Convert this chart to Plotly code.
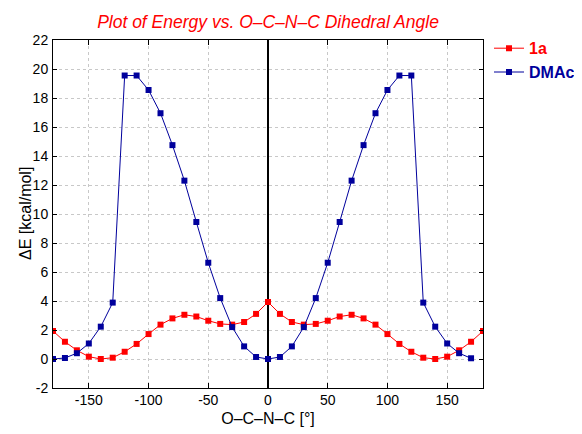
import plotly.graph_objects as go

angles_1a = [-180, -170, -160, -150, -140, -130, -120, -110, -100, -90, -80, -70, -60, -50, -40, -30, -20, -10,
             0, 10, 20, 30, 40, 50, 60, 70, 80, 90, 100, 110, 120, 130, 140, 150, 160, 170, 180]
energy_1a = [1.93, 1.19, 0.6, 0.16, 0.0, 0.09, 0.5, 1.04, 1.72, 2.37, 2.8, 3.05, 2.93, 2.64, 2.42, 2.37, 2.55, 3.11,
             3.93, 3.11, 2.55, 2.37, 2.42, 2.64, 2.93, 3.05, 2.8, 2.37, 1.72, 1.04, 0.5, 0.09, 0.0, 0.16, 0.6, 1.19, 1.93]

angles_dmac = [-180, -170, -160, -150, -140, -130, -120, -110, -100, -90, -80, -70, -60, -50, -40, -30, -20, -10,
               0, 10, 20, 30, 40, 50, 60, 70, 80, 90, 100, 110, 120, 130, 140, 150, 160, 170]
energy_dmac = [0.0, 0.07, 0.4, 1.07, 2.23, 3.89, 19.55, 19.55, 18.55, 16.95, 14.75, 12.3, 9.45, 6.64, 4.2, 2.2, 0.87, 0.14,
               0.0, 0.14, 0.87, 2.2, 4.2, 6.64, 9.45, 12.3, 14.75, 16.95, 18.55, 19.55, 19.55, 3.89, 2.23, 1.07, 0.4, 0.05]

x_ticks = [-150, -100, -50, 0, 50, 100, 150]
x_tick_labels = ["-150", "-100", "-50", "0", "50", "100", "150"]
y_ticks = list(range(-2, 23, 2))
y_tick_labels = [str(v) for v in y_ticks]

RED = "#ff0000"
BLUE = "#00009c"
FONT = "Liberation Sans, Arial, sans-serif"

# page body has an 8px margin, so the figure is sized/positioned to compensate
W, H = 574, 426
L, R, T, B = 45, 99, 32, 46
PW = W - L - R

fig = go.Figure()
fig.add_trace(go.Scatter(
    x=angles_1a, y=energy_1a, mode="lines+markers",
    name=f"<b><span style='color:{RED}'>1a</span></b>",
    line=dict(color=RED, width=1),
    marker=dict(symbol="square", size=6, color=RED),
))
fig.add_trace(go.Scatter(
    x=angles_dmac, y=energy_dmac, mode="lines+markers",
    name=f"<b><span style='color:{BLUE}'>DMAc</span></b>",
    line=dict(color=BLUE, width=1),
    marker=dict(symbol="square", size=6, color=BLUE),
))

fig.update_layout(
    width=W, height=H,
    margin=dict(l=L, r=R, t=T, b=B, autoexpand=False),
    paper_bgcolor="white", plot_bgcolor="white",
    font=dict(family=FONT, size=14, color="black"),
    title=dict(text="<i>Plot of Energy vs. O\u2013C\u2013N\u2013C Dihedral Angle</i>",
               font=dict(family=FONT, size=17.5, color=RED),
               x=260 / W, xanchor="center", y=1 - 14 / H, yanchor="middle"),
    legend=dict(x=1.0 + 6 / PW, y=1.025, xanchor="left", yanchor="top",
                font=dict(family=FONT, size=16), bgcolor="rgba(0,0,0,0)",
                tracegroupgap=0, itemwidth=30),
    showlegend=True,
    annotations=[dict(text="\u0394E [kcal/mol]", textangle=-90, showarrow=False,
                      xref="paper", yref="paper", x=(17 - L) / PW, y=0.5,
                      xanchor="center", yanchor="middle",
                      font=dict(family=FONT, size=16, color="black"))],
)
fig.update_xaxes(
    range=[-180, 180], tickvals=x_ticks, ticktext=x_tick_labels,
    ticks="inside", ticklen=5, tickcolor="black",
    showline=True, linecolor="black", linewidth=1, mirror="ticks",
    showgrid=True, gridcolor="#c8c8c8", griddash="dot", gridwidth=1,
    zeroline=True, zerolinecolor="black", zerolinewidth=1.5,
    title=dict(text="O\u2013C\u2013N\u2013C [\u00b0]", font=dict(size=16), standoff=6),
    tickfont=dict(size=14), ticklabelstandoff=-1, automargin=False,
)
fig.update_yaxes(
    range=[-2, 22], tickvals=y_ticks, ticktext=y_tick_labels,
    ticks="inside", ticklen=4, tickcolor="black",
    showline=True, linecolor="black", linewidth=1, mirror="ticks",
    showgrid=True, gridcolor="#c8c8c8", griddash="dot", gridwidth=1,
    zeroline=False,
    tickfont=dict(size=14), ticklabelstandoff=1, automargin=False,
)

fig.write_html("out.html")
